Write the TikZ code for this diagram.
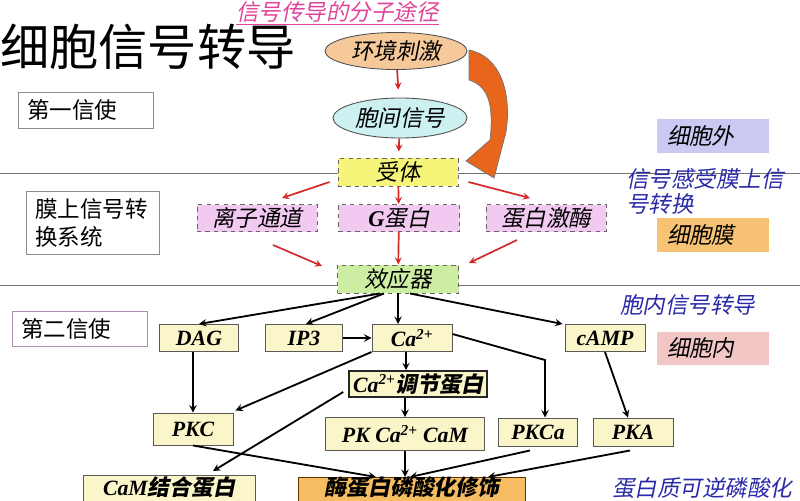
\documentclass[tikz,border=0pt]{standalone}
\usepackage{fontspec}
\setmainfont{Liberation Serif}
\newfontfamily\cjk{Noto Sans CJK SC}
\newfontfamily\cjksl[FakeSlant=0.2]{Noto Sans CJK SC}
\usepackage{tikz}
\usetikzlibrary{shapes,arrows}
\usetikzlibrary{positioning,calc}
\usepackage{xcolor}

\definecolor{stimfill}{HTML}{F6C99B}
\definecolor{cellfill}{HTML}{CDF1F1}
\definecolor{recfill}{HTML}{F6F57A}
\definecolor{memfill}{HTML}{F1C9F1}
\definecolor{efffill}{HTML}{CDEEA2}
\definecolor{cream}{HTML}{FAF6C9}
\definecolor{phosfill}{HTML}{F6BC62}
\definecolor{outfill}{HTML}{C9C9F3}
\definecolor{memtag}{HTML}{F8C274}
\definecolor{intag}{HTML}{F3C6C6}
\definecolor{noteblue}{HTML}{2A2AA8}
\definecolor{pathpink}{HTML}{E0449A}
\definecolor{bigorange}{HTML}{E8661C}
\definecolor{redline}{HTML}{D42828}

\def\px{0.025cm}

\begin{document}
\begin{tikzpicture}[x=0.025cm,y=-0.025cm,
  sz/.style 2 args={minimum width=#1*\px,minimum height=#2*\px},
  lab/.style={font=\cjksl\fontsize{16}{19}\selectfont},
  ell/.style={ellipse,draw=black!70,line width=0.6pt,inner sep=0,lab},
  dbox/.style={rectangle,draw=black!60,dashed,line width=0.7pt,inner sep=0,lab},
  sbox/.style={rectangle,draw=black!65,line width=0.7pt,fill=cream,inner sep=0,
    font=\bfseries\itshape\fontsize{15.5}{18}\selectfont},
  lbox/.style={rectangle,draw=black!45,line width=0.7pt,fill=white,inner ysep=0,
    inner xsep=9*\px,align=left,font=\cjk\fontsize{16}{19.5}\selectfont},
  tag/.style={rectangle,inner ysep=0,inner xsep=10*\px,text width=2.3cm,align=left,lab},
  note/.style={inner sep=0,text=noteblue,align=left,font=\cjksl\fontsize{16}{18}\selectfont},
  redarr/.style={-stealth,redline,line width=1.2pt},
  blkarr/.style={-stealth,black,line width=1.3pt},
  sep/.style={black!55,line width=0.7pt}]

  \useasboundingbox (0,0) rectangle (800,500);
  \clip (0,0) rectangle (800,500);

  % layer lines
  \draw[sep] (0,173) -- (800,173);
  \draw[sep] (0,285) -- (800,285);

  % titles
  \node[anchor=west,inner sep=0,font=\cjk\fontsize{35}{40}\selectfont] (title) at (0,47) {细胞信号转导};
  \node[anchor=north west,inner sep=0,text=pathpink,font=\cjksl\fontsize{16}{18}\selectfont] (path) at (236,1) {\underline{信号传导的分子途径}};

  % left labels
  \node[lbox,text width=2.925cm,minimum height=36*\px] (msg1) at (86,110) {第一信使};
  \node[lbox,text width=2.875cm,minimum height=63*\px] (memb) at (93,223) {膜上信号转\\换系统};
  \node[lbox,draw=black!35!violet!45,text width=2.925cm,minimum height=35*\px] (msg2) at (80,329) {第二信使};

  % right labels
  \node[tag,fill=outfill,minimum height=34*\px] (outside) at (713,136) {细胞外};
  \node[tag,fill=memtag,minimum height=34*\px] (membrane) at (713,235) {细胞膜};
  \node[tag,fill=intag,minimum height=33*\px] (inside) at (713,348) {细胞内};
  \node[note,anchor=north west] (sense) at (626,168) {信号感受膜上信\\号转换};
  \node[note,anchor=west] (intra) at (620,305) {胞内信号转导};
  \node[note,anchor=south west] (revers) at (612,499) {蛋白质可逆磷酸化};

  % first messenger
  \node[ell,fill=stimfill,sz={142}{37}] (stim) at (396,51) {环境刺激};
  \node[ell,fill=cellfill,sz={134}{40}] (inter) at (400,118) {胞间信号};
  \node[dbox,fill=recfill,sz={120}{28}] (rec) at (398,172) {受体};

  % big orange arrow
  \filldraw[fill=bigorange,draw=black!55,line width=0.5pt]
    (469,50) .. controls (500,56) and (512,92) .. (506,132)
    -- (494,178) -- (466,161) -- (490,140)
    .. controls (494,104) and (488,86) .. (469,80) -- cycle;

  % membrane system
  \node[dbox,fill=memfill,sz={120}{27}] (ion) at (257,218) {离子通道};
  \node[dbox,fill=memfill,sz={121}{27}] (gpro) at (399,218) {{\rmfamily\itshape\bfseries G}蛋白};
  \node[dbox,fill=memfill,sz={120}{27}] (kin) at (546,218) {蛋白激酶};
  \node[dbox,fill=efffill,sz={121}{28}] (eff) at (398,279) {效应器};

  \draw[redarr,shorten >=0.2cm] (stim) -- (inter);
  \draw[redarr,shorten >=0.15cm] (inter) -- (rec);
  \draw[redarr] ($(rec.west)+(-8,10)$) -- ($(ion.north)+(25,-6)$);
  \draw[redarr] (rec) -- (gpro);
  \draw[redarr] ($(rec.east)+(10,10)$) -- ($(kin.north)+(-16,-6)$);
  \draw[redarr] ($(ion.south)+(16,13)$) -- ($(eff.west)+(-15,-13)$);
  \draw[redarr] (gpro) -- (eff);
  \draw[redarr] ($(kin.south)+(-29,8)$) -- ($(eff.east)+(10,-16)$);

  % second messengers
  \node[sbox,sz={79}{27}] (dag) at (199,338) {DAG};
  \node[sbox,sz={77}{27}] (ip3) at (304,338) {IP3};
  \node[sbox,sz={80}{27}] (ca) at (412,338) {Ca\textsuperscript{2+}};
  \node[sbox,sz={80}{27}] (camp) at (605,338) {cAMP};
  \node[sbox,draw=black!85,line width=1.1pt,sz={138}{26}] (careg) at (418,384) {Ca\textsuperscript{2+}{\cjksl 调节蛋白}};

  % kinases
  \node[sbox,sz={80}{32}] (pkc) at (193,429) {PKC};
  \node[sbox,sz={159}{33}] (pkcam) at (405,434) {PK Ca\textsuperscript{2+} CaM};
  \node[sbox,sz={79}{28}] (pkca) at (538,432) {PKCa};
  \node[sbox,sz={80}{28}] (pka) at (633,432) {PKA};
  \node[sbox,minimum width=172*\px,text height=0.5cm,text depth=0.35cm,anchor=north] (cambp) at (169,475) {CaM{\cjksl 结合蛋白}};
  \node[sbox,fill=phosfill,draw=black!60!orange,minimum width=227*\px,text height=0.45cm,text depth=0.35cm,anchor=north] (phos) at (412,477) {{\cjksl 酶蛋白磷酸化修饰}};
  \coordinate (cabend) at (545,360);

  \draw[blkarr] ($(eff.south)+(-18,0)$) -- (dag.north);
  \draw[blkarr] ($(eff.south)+(-14,0)$) -- ($(ip3.north)+(2,0)$);
  \draw[blkarr] (eff.south) -- (eff.south |- ca.north);
  \draw[blkarr] ($(eff.south)+(12,0)$) -- ($(camp.north west)+(-2,0)$);
  \draw[blkarr] (ip3) -- (ca);
  \draw[blkarr] ($(ca.south)+(-6,0)$) -- ($(careg.north)+(-12,0)$);
  \draw[blkarr] ($(ca.east)+(0,-4)$) -- (cabend) -- (cabend |- pkca.north);
  \draw[blkarr] (ca.south west) -- ($(pkc.north east)+(2,-2)$);
  \draw[blkarr] (pkc.north |- dag.south) -- (pkc.north);
  \draw[blkarr] ($(careg.west)+(-5,8)$) -- ($(cambp.north)+(44,-4)$);
  \draw[blkarr] (pkcam.north |- careg.south) -- (pkcam.north);
  \draw[blkarr] (pkcam.south) -- (pkcam.south |- phos.north);
  \draw[blkarr] (pkc.south) -- ($(phos.north west)+(78,0)$);
  \draw[blkarr] ($(pkca.south)+(-8,4)$) -- ($(phos.north)+(-2,0)$);
  \draw[blkarr] ($(pka.south)+(-3,4)$) -- ($(phos.north east)+(-38,0)$);
  \draw[blkarr] (camp.south) -- ($(pka.north)+(-5,0)$);

\end{tikzpicture}
\end{document}
